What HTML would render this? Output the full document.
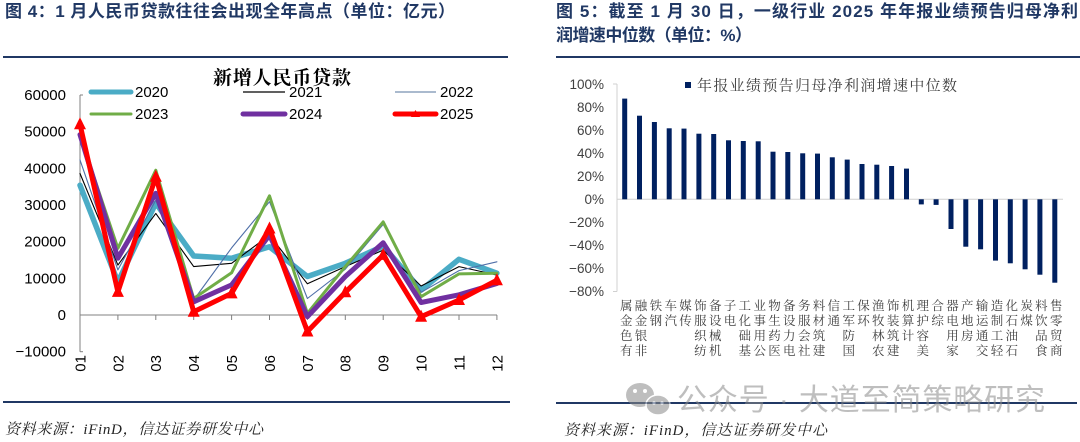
<!DOCTYPE html>
<html><head><meta charset="utf-8">
<style>
html,body{margin:0;padding:0;background:#fff;}
svg{display:block;}
.t{font-family:"Liberation Sans","Noto Sans CJK SC",sans-serif;}
.s{font-family:"Liberation Serif","Noto Serif CJK SC",serif;}
</style></head>
<body>
<svg width="1080" height="442" viewBox="0 0 1080 442" xmlns="http://www.w3.org/2000/svg">
<rect width="1080" height="442" fill="#fff"/>

<!-- Titles -->
<text class="t" x="5" y="17" font-size="17" font-weight="bold" fill="#203864" textLength="450" lengthAdjust="spacing">图 4：1 月人民币贷款往往会出现全年高点（单位：亿元）</text>
<text class="t" x="556" y="17" font-size="17" font-weight="bold" fill="#203864" textLength="522" lengthAdjust="spacing">图 5：截至 1 月 30 日，一级行业 2025 年年报业绩预告归母净利</text>
<text class="t" x="556" y="41" font-size="17" font-weight="bold" fill="#203864" textLength="196" lengthAdjust="spacing">润增速中位数（单位：%）</text>

<line x1="3" y1="57" x2="508" y2="57" stroke="#203864" stroke-width="2"/>
<line x1="556" y1="57" x2="1080" y2="57" stroke="#203864" stroke-width="2"/>
<line x1="3" y1="402" x2="510" y2="402" stroke="#203864" stroke-width="2"/>
<line x1="556" y1="403" x2="1077" y2="403" stroke="#203864" stroke-width="2"/>

<!-- LEFT CHART -->
<text class="s" x="213" y="84" font-size="19" font-weight="bold" fill="#000" textLength="138" lengthAdjust="spacing">新增人民币贷款</text>

<!-- legend -->
<g class="t" font-size="15" fill="#000">
<line x1="91" y1="92" x2="131" y2="92" stroke="#4bacc6" stroke-width="5" stroke-linecap="round"/>
<text x="135" y="97">2020</text>
<line x1="243" y1="92" x2="285" y2="92" stroke="#000" stroke-width="1.2"/>
<text x="289" y="97">2021</text>
<line x1="395" y1="92" x2="436" y2="92" stroke="#8ea4bd" stroke-width="1.5"/>
<text x="440" y="97">2022</text>
<line x1="91" y1="114" x2="131" y2="114" stroke="#70ad47" stroke-width="3" stroke-linecap="round"/>
<text x="135" y="119">2023</text>
<line x1="243" y1="114" x2="285" y2="114" stroke="#7030a0" stroke-width="5" stroke-linecap="round"/>
<text x="289" y="119">2024</text>
<line x1="395" y1="114" x2="436" y2="114" stroke="#ff0000" stroke-width="5" stroke-linecap="round"/>
<polygon points="415.5,110 411,117 420,117" fill="#ff0000"/>
<text x="440" y="119">2025</text>
</g>

<!-- axes -->
<line x1="80" y1="95" x2="80" y2="351.7" stroke="#808080" stroke-width="1"/>
<line x1="80" y1="95" x2="83" y2="95" stroke="#808080" stroke-width="1"/>
<line x1="80" y1="351.7" x2="83" y2="351.7" stroke="#808080" stroke-width="1"/>
<line x1="80" y1="315" x2="497" y2="315" stroke="#808080" stroke-width="1"/>
<g stroke="#808080" stroke-width="1">
<line x1="117.9" y1="315" x2="117.9" y2="320"/><line x1="155.8" y1="315" x2="155.8" y2="320"/>
<line x1="193.7" y1="315" x2="193.7" y2="320"/><line x1="231.6" y1="315" x2="231.6" y2="320"/>
<line x1="269.5" y1="315" x2="269.5" y2="320"/><line x1="307.4" y1="315" x2="307.4" y2="320"/>
<line x1="345.3" y1="315" x2="345.3" y2="320"/><line x1="383.2" y1="315" x2="383.2" y2="320"/>
<line x1="421.1" y1="315" x2="421.1" y2="320"/><line x1="459" y1="315" x2="459" y2="320"/>
<line x1="496.9" y1="315" x2="496.9" y2="320"/>
</g>

<g class="t" font-size="15" fill="#000" text-anchor="end">
<text x="66" y="100">60000</text>
<text x="66" y="136.7">50000</text>
<text x="66" y="173.3">40000</text>
<text x="66" y="210">30000</text>
<text x="66" y="246.7">20000</text>
<text x="66" y="283.3">10000</text>
<text x="66" y="320">0</text>
<text x="66" y="356.7">−10000</text>
</g>

<g class="t" font-size="15" fill="#000" text-anchor="end">
<text x="85.4" y="355" transform="rotate(-90 85.4 355)">01</text>
<text x="123.3" y="355" transform="rotate(-90 123.3 355)">02</text>
<text x="161.2" y="355" transform="rotate(-90 161.2 355)">03</text>
<text x="199.1" y="355" transform="rotate(-90 199.1 355)">04</text>
<text x="237" y="355" transform="rotate(-90 237 355)">05</text>
<text x="274.9" y="355" transform="rotate(-90 274.9 355)">06</text>
<text x="312.8" y="355" transform="rotate(-90 312.8 355)">07</text>
<text x="350.7" y="355" transform="rotate(-90 350.7 355)">08</text>
<text x="388.6" y="355" transform="rotate(-90 388.6 355)">09</text>
<text x="426.5" y="355" transform="rotate(-90 426.5 355)">10</text>
<text x="464.4" y="355" transform="rotate(-90 464.4 355)">11</text>
<text x="502.3" y="355" transform="rotate(-90 502.3 355)">12</text>
</g>

<!-- series -->
<g fill="none" stroke-linejoin="round" stroke-linecap="round">
<polyline stroke="#4bacc6" stroke-width="5.5" points="80,185.2 117.9,282 155.8,203.2 193.7,256 231.6,258.2 269.5,246.8 307.4,276.5 345.3,263.3 383.2,246.1 421.1,290.1 459,259.3 496.9,273.2"/>
<polyline stroke="#000" stroke-width="1.1" points="80,173.5 117.9,265.1 155.8,213.4 193.7,266.6 231.6,263.3 269.5,235.1 307.4,283.8 345.3,266.6 383.2,250.1 421.1,286 459,266.6 496.9,275"/>
<polyline stroke="#4f6fa8" stroke-width="1.1" points="80,159.9 117.9,269.9 155.8,200.2 193.7,300 231.6,247.9 269.5,201.7 307.4,298.5 345.3,269.2 383.2,224.4 421.1,292.3 459,270.6 496.9,261.8"/>
<polyline stroke="#70ad47" stroke-width="3" points="80,135.3 117.9,248.3 155.8,170.2 193.7,298.5 231.6,272.8 269.5,195.8 307.4,313.3 345.3,266.6 383.2,221.9 421.1,296.7 459,273.9 496.9,273.2"/>
<polyline stroke="#7030a0" stroke-width="5" points="80,134.6 117.9,258.2 155.8,193.3 193.7,301.8 231.6,284.9 269.5,235.1 307.4,316.7 345.3,276.5 383.2,242.8 421.1,302.5 459,294.8 496.9,283.5"/>
<polyline stroke="#ff0000" stroke-width="5" points="80,124.3 117.9,291.9 155.8,176.8 193.7,311.7 231.6,293.4 269.5,228.5 307.4,331.5 345.3,292.3 383.2,254.9 421.1,316.7 459,300 496.9,280.2"/>
</g>
<g fill="#ff0000">
<polygon points="80,117.3 74,129.3 86,129.3"/>
<polygon points="117.9,284.9 111.9,296.9 123.9,296.9"/>
<polygon points="155.8,169.8 149.8,181.8 161.8,181.8"/>
<polygon points="193.7,304.7 187.7,316.7 199.7,316.7"/>
<polygon points="231.6,286.4 225.6,298.4 237.6,298.4"/>
<polygon points="269.5,221.5 263.5,233.5 275.5,233.5"/>
<polygon points="307.4,324.5 301.4,336.5 313.4,336.5"/>
<polygon points="345.3,285.3 339.3,297.3 351.3,297.3"/>
<polygon points="383.2,247.9 377.2,259.9 389.2,259.9"/>
<polygon points="421.1,309.7 415.1,321.7 427.1,321.7"/>
<polygon points="459,293 453,305 465,305"/>
<polygon points="496.9,273.2 490.9,285.2 502.9,285.2"/>
</g>

<!-- RIGHT CHART -->
<rect x="685" y="82" width="6" height="6" fill="#002060"/>
<text class="s" x="697" y="90.5" font-size="15" fill="#404040" textLength="260" lengthAdjust="spacing">年报业绩预告归母净利润增速中位数</text>

<line x1="617" y1="84" x2="617" y2="291.5" stroke="#d0d0d0" stroke-width="1"/>
<line x1="613" y1="84" x2="617" y2="84" stroke="#d0d0d0" stroke-width="1"/>
<line x1="613" y1="291.5" x2="617" y2="291.5" stroke="#d0d0d0" stroke-width="1"/>
<line x1="617" y1="199.3" x2="1063" y2="199.3" stroke="#d0d0d0" stroke-width="1"/>

<g class="t" font-size="13.5" fill="#404040" text-anchor="end">
<text x="604" y="89">100%</text>
<text x="604" y="112">80%</text>
<text x="604" y="135">60%</text>
<text x="604" y="158">40%</text>
<text x="604" y="181">20%</text>
<text x="604" y="204">0%</text>
<text x="604" y="227">−20%</text>
<text x="604" y="250">−40%</text>
<text x="604" y="273">−60%</text>
<text x="604" y="296">−80%</text>
</g>

<g fill="#002060">
<rect x="622.2" y="98.6" width="5" height="100.7"/>
<rect x="637" y="115.7" width="5" height="83.6"/>
<rect x="651.9" y="122" width="5" height="77.3"/>
<rect x="666.7" y="128.3" width="5" height="71"/>
<rect x="681.5" y="128.6" width="5" height="70.7"/>
<rect x="696.4" y="133.7" width="5" height="65.6"/>
<rect x="711.2" y="134" width="5" height="65.3"/>
<rect x="726" y="140.3" width="5" height="59"/>
<rect x="740.8" y="141" width="5" height="58.3"/>
<rect x="755.7" y="141.3" width="5" height="58"/>
<rect x="770.5" y="151.7" width="5" height="47.6"/>
<rect x="785.3" y="152" width="5" height="47.3"/>
<rect x="800.2" y="153.3" width="5" height="46"/>
<rect x="815" y="153.6" width="5" height="45.7"/>
<rect x="829.8" y="157.3" width="5" height="42"/>
<rect x="844.7" y="159.6" width="5" height="39.7"/>
<rect x="859.5" y="164" width="5" height="35.3"/>
<rect x="874.3" y="164.7" width="5" height="34.6"/>
<rect x="889.1" y="166" width="5" height="33.3"/>
<rect x="904" y="168.6" width="5" height="30.7"/>
<rect x="918.8" y="199.3" width="5" height="5.1"/>
<rect x="933.6" y="199.3" width="5" height="5.6"/>
<rect x="948.5" y="199.3" width="5" height="29.7"/>
<rect x="963.3" y="199.3" width="5" height="47.4"/>
<rect x="978.1" y="199.3" width="5" height="50"/>
<rect x="993" y="199.3" width="5" height="61.3"/>
<rect x="1007.8" y="199.3" width="5" height="64"/>
<rect x="1022.6" y="199.3" width="5" height="70"/>
<rect x="1037.4" y="199.3" width="5" height="75.4"/>
<rect x="1052.3" y="199.3" width="5" height="83.4"/>
</g>

<!-- category labels: upright chars stacked, reading bottom to top, top-aligned -->
<g class="s" font-size="12.5" fill="#404040" text-anchor="middle">
<text x="626.2 626.2 626.2 626.2" y="355 340 325 310">有色金属</text>
<text x="641 641 641 641" y="355 340 325 310">非银金融</text>
<text x="655.9 655.9" y="325 310">钢铁</text>
<text x="670.7 670.7" y="325 310">汽车</text>
<text x="685.5 685.5" y="325 310">传媒</text>
<text x="700.4 700.4 700.4 700.4" y="355 340 325 310">纺织服饰</text>
<text x="715.2 715.2 715.2 715.2" y="355 340 325 310">机械设备</text>
<text x="730 730" y="325 310">电子</text>
<text x="744.8 744.8 744.8 744.8" y="355 340 325 310">基础化工</text>
<text x="759.7 759.7 759.7 759.7" y="355 340 325 310">公用事业</text>
<text x="774.5 774.5 774.5 774.5" y="355 340 325 310">医药生物</text>
<text x="789.3 789.3 789.3 789.3" y="355 340 325 310">电力设备</text>
<text x="804.2 804.2 804.2 804.2" y="355 340 325 310">社会服务</text>
<text x="819 819 819 819" y="355 340 325 310">建筑材料</text>
<text x="833.8 833.8" y="325 310">通信</text>
<text x="848.7 848.7 848.7 848.7" y="355 340 325 310">国防军工</text>
<text x="863.5 863.5" y="325 310">环保</text>
<text x="878.3 878.3 878.3 878.3" y="355 340 325 310">农林牧渔</text>
<text x="893.1 893.1 893.1 893.1" y="355 340 325 310">建筑装饰</text>
<text x="908 908 908" y="340 325 310">计算机</text>
<text x="922.8 922.8 922.8 922.8" y="355 340 325 310">美容护理</text>
<text x="937.6 937.6" y="325 310">综合</text>
<text x="952.5 952.5 952.5 952.5" y="355 340 325 310">家用电器</text>
<text x="967.3 967.3 967.3" y="340 325 310">房地产</text>
<text x="982.1 982.1 982.1 982.1" y="355 340 325 310">交通运输</text>
<text x="997 997 997 997" y="355 340 325 310">轻工制造</text>
<text x="1011.8 1011.8 1011.8 1011.8" y="355 340 325 310">石油石化</text>
<text x="1026.6 1026.6" y="325 310">煤炭</text>
<text x="1041.4 1041.4 1041.4 1041.4" y="355 340 325 310">食品饮料</text>
<text x="1056.3 1056.3 1056.3 1056.3" y="355 340 325 310">商贸零售</text>
</g>

<!-- sources -->
<text class="s" x="5" y="434" font-size="15" font-style="italic" fill="#222" textLength="258" lengthAdjust="spacing">资料来源：iFinD，信达证券研发中心</text>
<text class="s" x="564" y="435" font-size="15" font-style="italic" fill="#222" textLength="263" lengthAdjust="spacing">资料来源：iFinD，信达证券研发中心</text>

<!-- watermark -->
<g opacity="0.55">
<ellipse cx="640" cy="395" rx="14" ry="12" fill="#8a8a8a"/>
<ellipse cx="658" cy="405" rx="12" ry="10" fill="#8a8a8a" stroke="#fff" stroke-width="1.5"/>
<circle cx="635" cy="391" r="2" fill="#fff"/><circle cx="645" cy="391" r="2" fill="#fff"/>
<circle cx="654" cy="403" r="1.6" fill="#fff"/><circle cx="662" cy="403" r="1.6" fill="#fff"/>
<text class="t" x="677" y="410" font-size="30" fill="#8a8a8a" textLength="368" lengthAdjust="spacing">公众号 · 大道至简策略研究</text>
</g>
</svg>
</body></html>
